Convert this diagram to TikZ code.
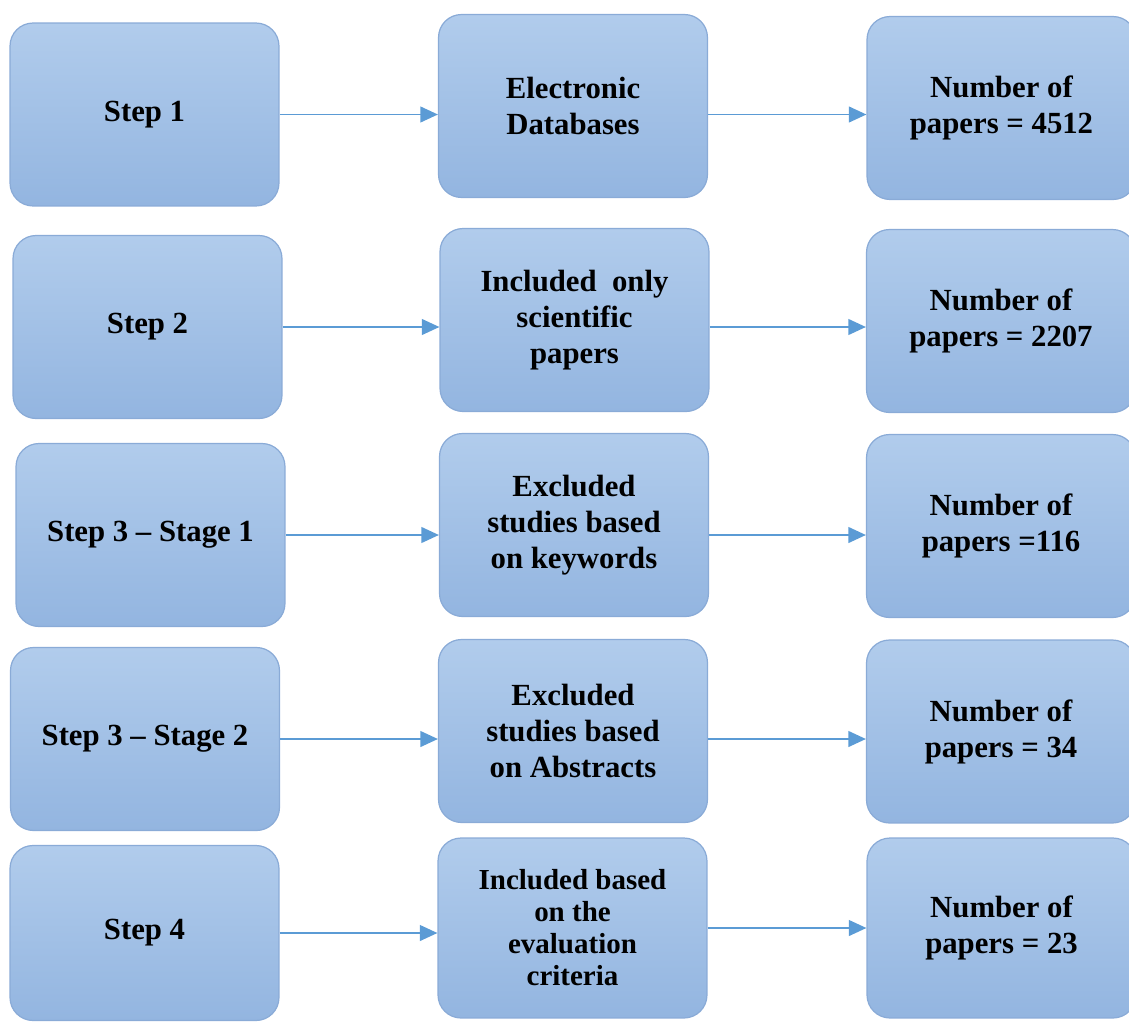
\documentclass[tikz,border=0pt]{standalone}
\usepackage{fontspec}
\setmainfont{Liberation Serif}
\usetikzlibrary{arrows.meta}
\definecolor{boxtop}{HTML}{B1CCEC}
\definecolor{boxbot}{HTML}{93B5E0}
\definecolor{boxline}{HTML}{8AABD7}
\definecolor{arrblue}{HTML}{5B9BD5}

\begin{document}
\begin{tikzpicture}[x=0.02cm, y=-0.02cm,
  stepbox/.style={draw=boxline, line width=0.7pt, rounded corners=0.46cm,
             top color=boxtop, bottom color=boxbot,
             minimum width=5.38cm, minimum height=3.66cm, inner sep=2pt,
             align=center, font=\fontsize{17.5}{20.5}\selectfont\bfseries},
  flow/.style={line width=1pt, arrblue, -{Triangle[length=10pt, width=9pt]}},
]
\clip (0,0) rectangle (1129,1021);

% left column
\node[stepbox] (s1) at (144.5,114.5) {Step 1};
\node[stepbox] (s2) at (147.5,327)   {Step 2};
\node[stepbox] (s3) at (150.5,535)   {Step 3 -- Stage 1};
\node[stepbox] (s4) at (145,739)     {Step 3 -- Stage 2};
\node[stepbox, minimum height=3.5cm] (s5) at (144.5,933) {Step 4};

% middle column
\node[stepbox] (m1) at (573,106)   {Electronic\\Databases};
\node[stepbox] (m2) at (574.5,320) {Included\ \ only\\scientific\\papers};
\node[stepbox] (m3) at (574,525)   {Excluded\\studies based\\on keywords};
\node[stepbox] (m4) at (573,731)   {Excluded\\studies based\\on Abstracts};
\node[stepbox, minimum height=3.6cm, font=\fontsize{16.5}{18.2}\selectfont\bfseries]
  (m5) at (572.5,928) {Included based\\on the\\evaluation\\criteria};

% right column
\node[stepbox] (n1) at (1001.5,108) {Number of\\papers = 4512};
\node[stepbox] (n2) at (1001,321)   {Number of\\papers = 2207};
\node[stepbox] (n3) at (1001,526)   {Number of\\papers =116};
\node[stepbox] (n4) at (1001,731.5) {Number of\\papers = 34};
\node[stepbox, minimum height=3.6cm] (n5) at (1001.5,928) {Number of\\papers = 23};

\foreach \r in {1,...,4} {
  \draw[flow] (s\r.east) -- (m\r.west |- s\r.east);
  \draw[flow] (m\r.east |- s\r.east) -- (n\r.west |- s\r.east);
}
\draw[flow] (s5.east) -- (m5.west |- s5.east);
\draw[flow] (m5.east |- n5.west) -- (n5.west);
\end{tikzpicture}
\end{document}
